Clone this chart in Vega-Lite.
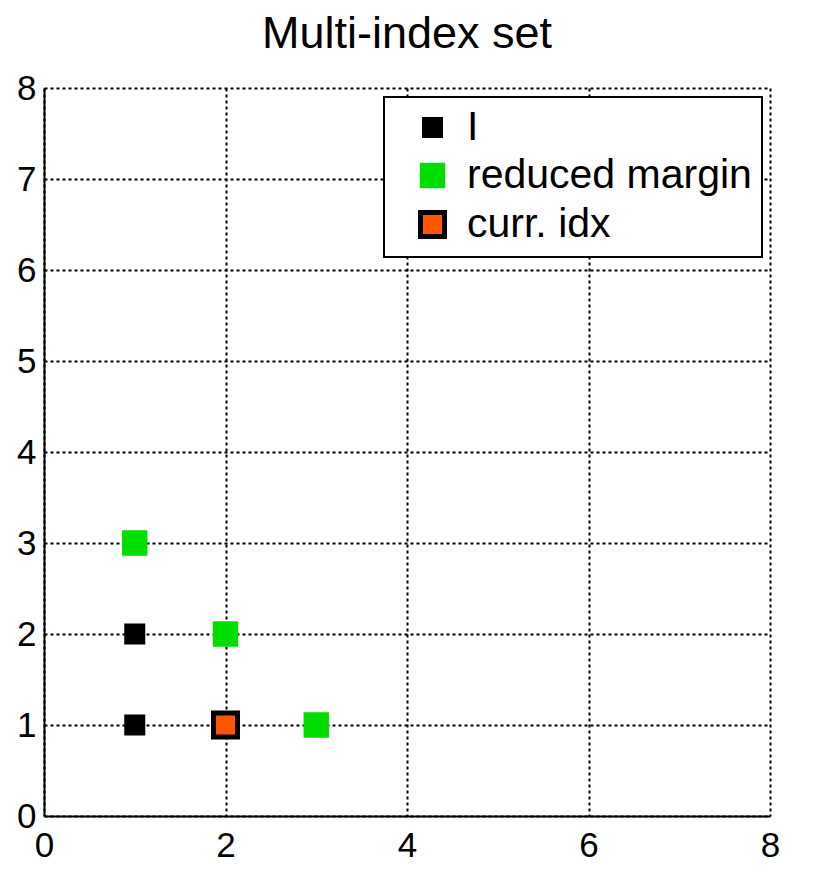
{
  "$schema": "https://vega.github.io/schema/vega-lite/v6.json",
  "autosize": {"type": "none"},
  "width": 726,
  "height": 728,
  "padding": {"left": 44, "top": 88, "right": 60, "bottom": 63},
  "background": "white",
  "title": {
    "text": "Multi-index set",
    "font": "Liberation Sans",
    "fontSize": 45,
    "fontWeight": "normal",
    "color": "black",
    "anchor": "middle",
    "offset": 14
  },
  "config": {
    "view": {"stroke": null},
    "axis": {
      "labelFont": "Liberation Sans",
      "labelFontSize": 35,
      "labelColor": "black",
      "domainColor": "black",
      "domainWidth": 2,
      "gridColor": "black",
      "gridWidth": 2,
      "gridDash": [3, 3],
      "gridOpacity": 1,
      "ticks": false,
      "labelFlush": false,
      "labelOverlap": false,
      "title": null
    },
    "legend": {"strokeWidth": 2}
  },
  "data": {
    "values": [
      {"x": 1, "y": 1, "series": "I"},
      {"x": 1, "y": 2, "series": "I"},
      {"x": 1, "y": 3, "series": "reduced margin"},
      {"x": 2, "y": 2, "series": "reduced margin"},
      {"x": 3, "y": 1, "series": "reduced margin"},
      {"x": 2, "y": 1, "series": "curr. idx"}
    ]
  },
  "mark": {"type": "point", "shape": "square", "filled": true, "opacity": 1, "strokeWidth": 5},
  "encoding": {
    "x": {
      "field": "x", "type": "quantitative",
      "scale": {"domain": [0, 8], "nice": false, "zero": false},
      "axis": {"values": [0, 2, 4, 6, 8], "labelPadding": 12, "format": "d"}
    },
    "y": {
      "field": "y", "type": "quantitative",
      "scale": {"domain": [0, 8], "nice": false, "zero": false},
      "axis": {"values": [0, 1, 2, 3, 4, 5, 6, 7, 8], "labelPadding": 8, "format": "d"}
    },
    "fill": {
      "field": "series", "type": "nominal",
      "scale": {"domain": ["I", "reduced margin", "curr. idx"], "range": ["#000000", "#00dd00", "#ff5500"]},
      "legend": {
        "title": null,
        "orient": "none",
        "legendX": 340,
        "legendY": 9,
        "strokeColor": "black",
        "fillColor": "white",
        "padding": 10,
        "labelFont": "Liberation Sans",
        "labelFontSize": 41,
        "labelColor": "black",
        "labelOffset": 14,
        "rowPadding": 6,
        "symbolOffset": 18,
        "symbolStrokeWidth": 5,
        "labelLimit": 400
      }
    },
    "stroke": {
      "field": "series", "type": "nominal",
      "scale": {"domain": ["I", "reduced margin", "curr. idx"], "range": ["#000000", "#00dd00", "#000000"]},
      "legend": {"title": null}
    },
    "size": {
      "field": "series", "type": "nominal",
      "scale": {"domain": ["I", "reduced margin", "curr. idx"], "range": [256, 576, 361]},
      "legend": {"title": null}
    }
  }
}
